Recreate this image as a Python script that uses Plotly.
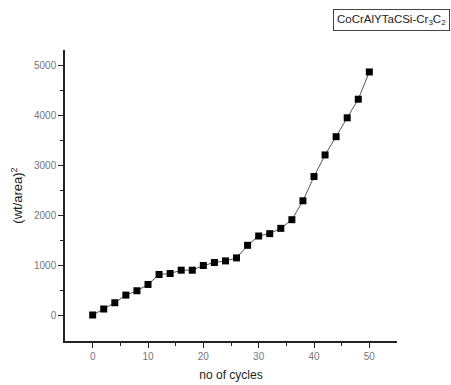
import plotly.graph_objects as go

cycles = [0, 2, 4, 6, 8, 10, 12, 14, 16, 18, 20, 22, 24, 26, 28, 30, 32, 34, 36, 38, 40, 42, 44, 46, 48, 50]
wt_area_sq = [0, 120, 245, 398, 485, 611, 810, 830, 896, 896, 990, 1049, 1082, 1142, 1394, 1580, 1627, 1733,
              1906, 2284, 2769, 3201, 3566, 3944, 4316, 4861]
series_name = "CoCrAlYTaCSi-Cr<sub>3</sub>C<sub>2</sub>"

fig = go.Figure()
fig.add_trace(go.Scatter(
    x=cycles, y=wt_area_sq, mode="lines+markers", name=series_name,
    line=dict(color="#555555", width=1),
    marker=dict(symbol="square", size=7, color="black"),
    showlegend=False,
))

font_family = "Liberation Sans, Arial, sans-serif"
fig.update_layout(
    width=451, height=385,
    margin=dict(l=65, r=54, t=50, b=44),
    paper_bgcolor="white", plot_bgcolor="white",
    font=dict(family=font_family, size=10, color="#555555"),
    xaxis=dict(
        range=[-5, 55], tickvals=[0, 10, 20, 30, 40, 50],
        showline=True, linecolor="#222222", linewidth=1.5,
        ticks="outside", ticklen=5, tickcolor="#222222", tickwidth=1,
        minor=dict(tickvals=[5, 15, 25, 35, 45], ticks="outside", ticklen=3, tickcolor="#222222"),
        showgrid=False, zeroline=False, automargin=False,
        title=dict(text="no of cycles", font=dict(size=12, color="#222222"), standoff=10),
        tickfont=dict(size=10, color="#777777"),
    ),
    yaxis=dict(
        range=[-520, 5300], tickvals=[0, 1000, 2000, 3000, 4000, 5000],
        showline=True, linecolor="#222222", linewidth=1.5,
        ticks="outside", ticklen=5, tickcolor="#222222", tickwidth=1,
        minor=dict(tickvals=[500, 1500, 2500, 3500, 4500], ticks="outside", ticklen=3, tickcolor="#222222"),
        showgrid=False, zeroline=False, automargin=False,
        title=dict(text="(wt/area)<sup>2</sup>", font=dict(size=13, color="#222222"), standoff=8),
        tickfont=dict(size=10, color="#777777"),
    ),
)

fig.add_annotation(
    xref="paper", yref="paper", x=0.807, y=1.0, yshift=41, xanchor="left", yanchor="top",
    text=series_name, showarrow=False, align="left",
    font=dict(size=11.5, color="#222222"),
    bordercolor="#444444", borderwidth=1, borderpad=3, bgcolor="white",
)

fig.write_html("out.html")
